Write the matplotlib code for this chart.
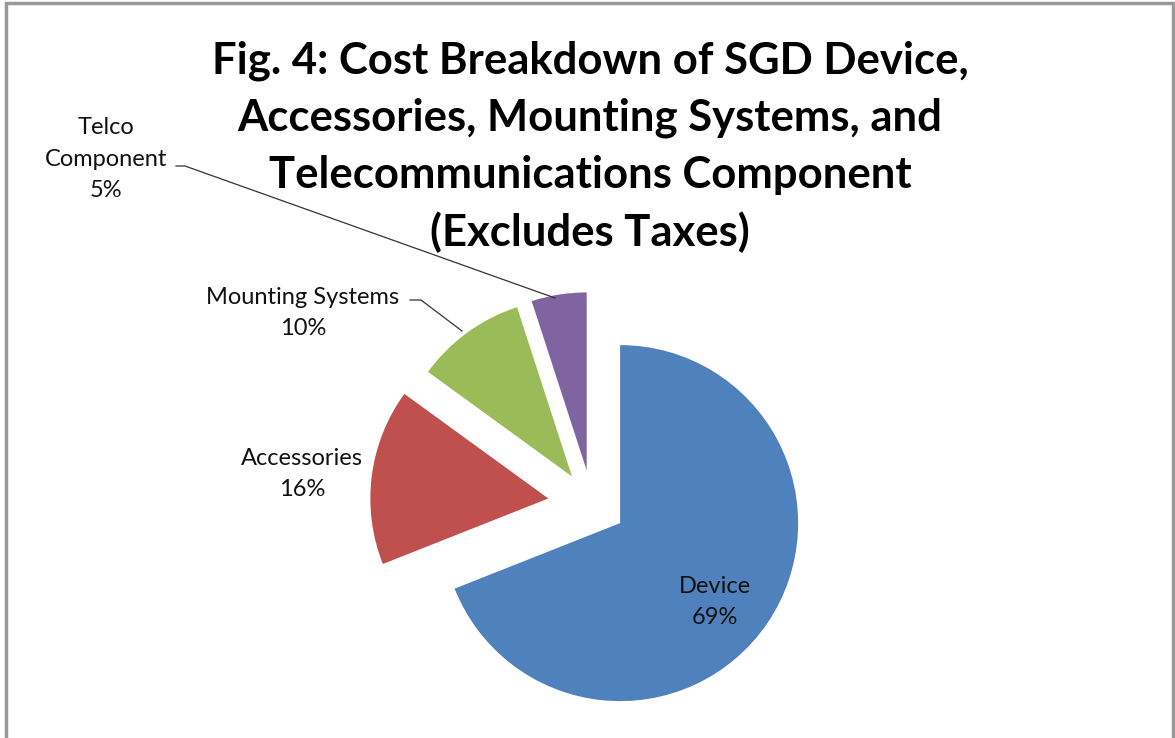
import matplotlib.pyplot as plt

# data
names = ['Device', 'Accessories', 'Mounting Systems', 'Telco\nComponent']
shares = [69, 16, 10, 5]
colors = ['#4F81BD', '#C0504D', '#9BBB59', '#8064A2']
# explode distance in pixels (pie uses data units, axes are in pixels)
explode = [34, 44, 34, 34]

title = ('Fig. 4: Cost Breakdown of SGD Device,\n'
         'Accessories, Mounting Systems, and\n'
         'Telecommunications Component\n'
         '(Excludes Taxes)')

W, H = 1175, 738
fig = plt.figure(figsize=(W / 100, H / 100), dpi=100)
ax = fig.add_axes([0, 0, 1, 1])

wedges, _ = ax.pie(shares, explode=explode, colors=colors, startangle=90,
                   counterclock=False, center=(592, H - 504), radius=178,
                   frame=True)
ax.set_xlim(0, W)
ax.set_ylim(0, H)
ax.set_aspect('equal')
ax.axis('off')

# chart border (bottom edge is cut off in the original)
ax.plot([6, 6, 1173, 1173], [0, H - 3, H - 3, 0], color='#999999', lw=2.5,
        solid_joinstyle='miter')

lab_font = dict(family=['Lato', 'DejaVu Sans'], fontsize=17, color='#111111',
                ha='center', va='center', linespacing=1.6)

# label positions (pixels from the top-left)
lab_pos = [(715, 602), (302, 474), (303, 313), (106, 159)]
for (x, y), n, s in zip(lab_pos, names, shares):
    ax.text(x, H - y, f'{n}\n{s}%', **lab_font)

# leader lines
ax.plot([410, 421, 462], [H - 300, H - 300, H - 331], color='#333333', lw=0.9)
ax.plot([176, 185, 555], [H - 166, H - 166, H - 298], color='#333333', lw=0.9)

ax.text(590, H - 147, title, family=['Lato', 'DejaVu Sans'], fontweight='bold',
        fontsize=31.4, ha='center', va='center', linespacing=1.5, color='black')

fig.savefig('out.png', dpi=100)
